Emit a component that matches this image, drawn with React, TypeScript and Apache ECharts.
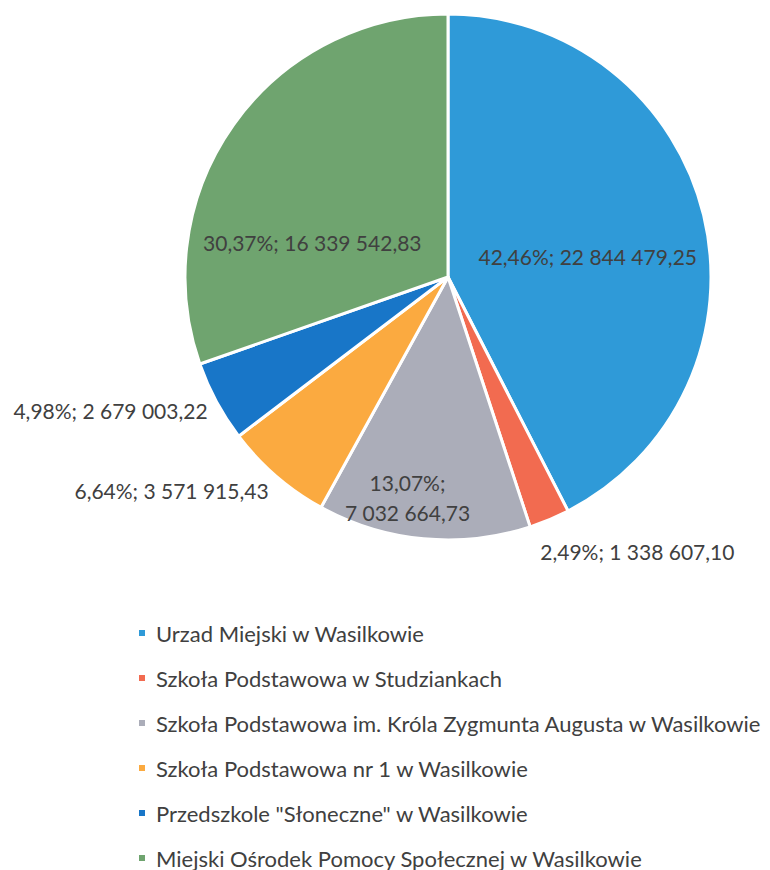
import React, { useEffect, useRef } from "react";
import * as echarts from "echarts";

const categories = [
  "Urzad Miejski w Wasilkowie",
  "Szkoła Podstawowa w Studziankach",
  "Szkoła Podstawowa im. Króla Zygmunta Augusta w Wasilkowie",
  "Szkoła Podstawowa nr 1 w Wasilkowie",
  "Przedszkole \"Słoneczne\" w Wasilkowie",
  "Miejski Ośrodek Pomocy Społecznej w Wasilkowie",
];
const values = [22844479.25, 1338607.1, 7032664.73, 3571915.43, 2679003.22, 16339542.83];
const colors = ["#2f9ad8", "#f26b50", "#abadb9", "#fbaa40", "#1876c8", "#6fa46f"];
const insideLabel = [true, false, true, false, false, true];
const twoLine = [false, false, true, false, false, false];

const total = values.reduce((a, b) => a + b, 0);

function fmtNum(v: number): string {
  const [i, d] = v.toFixed(2).split(".");
  return i.replace(/\B(?=(\d{3})+(?!\d))/g, " ") + "," + d;
}
function fmtPct(v: number): string {
  return ((v / total) * 100).toFixed(2).replace(".", ",") + "%";
}

// label nudges (dx, dy) per slice
const labelShift: [number, number][] = [
  [9, 11], [-18, 23], [-28, 87], [4, 7], [5, 4], [-26, 43],
];

export default function App() {
  const ref = useRef<HTMLDivElement>(null);
  useEffect(() => {
    if (!ref.current) return;
    const chart = echarts.init(ref.current, null, { renderer: "svg" });
    const font = "Lato, 'Open Sans', sans-serif";
    chart.setOption({
      animation: false,
      backgroundColor: "#ffffff",
      legend: {
        orient: "vertical",
        left: 137,
        top: 622,
        height: 400,
        padding: 0,
        itemWidth: 8,
        itemHeight: 8,
        itemGap: 23,
        icon: "rect",
        textStyle: { fontFamily: font, fontSize: 22, color: "#404040", lineHeight: 20, padding: [0, 0, 0, 5] },
        data: categories,
      },
      series: [
        {
          type: "pie",
          center: [448, 277],
          radius: 263,
          startAngle: 90,
          clockwise: true,
          avoidLabelOverlap: false,
          itemStyle: { borderColor: "#ffffff", borderWidth: 3 },
          labelLine: { show: false, length: 10, length2: 0 },
          labelLayout: (p: any) => {
            const s = labelShift[p.dataIndex];
            return { dx: s[0], dy: s[1] };
          },
          data: categories.map((name, i) => ({
            name,
            value: values[i],
            itemStyle: { color: colors[i] },
            label: {
              show: true,
              position: insideLabel[i] ? "inside" : "outside",
              fontFamily: font,
              fontSize: 21,
              color: "#404040",
              lineHeight: 30,
              formatter: () =>
                twoLine[i]
                  ? fmtPct(values[i]) + ";\n" + fmtNum(values[i])
                  : fmtPct(values[i]) + "; " + fmtNum(values[i]),
            },
          })),
        },
      ],
    });
    return () => chart.dispose();
  }, []);
  return <div ref={ref} style={{ position: "absolute", left: 0, top: 0, width: 770, height: 870 }} />;
}
